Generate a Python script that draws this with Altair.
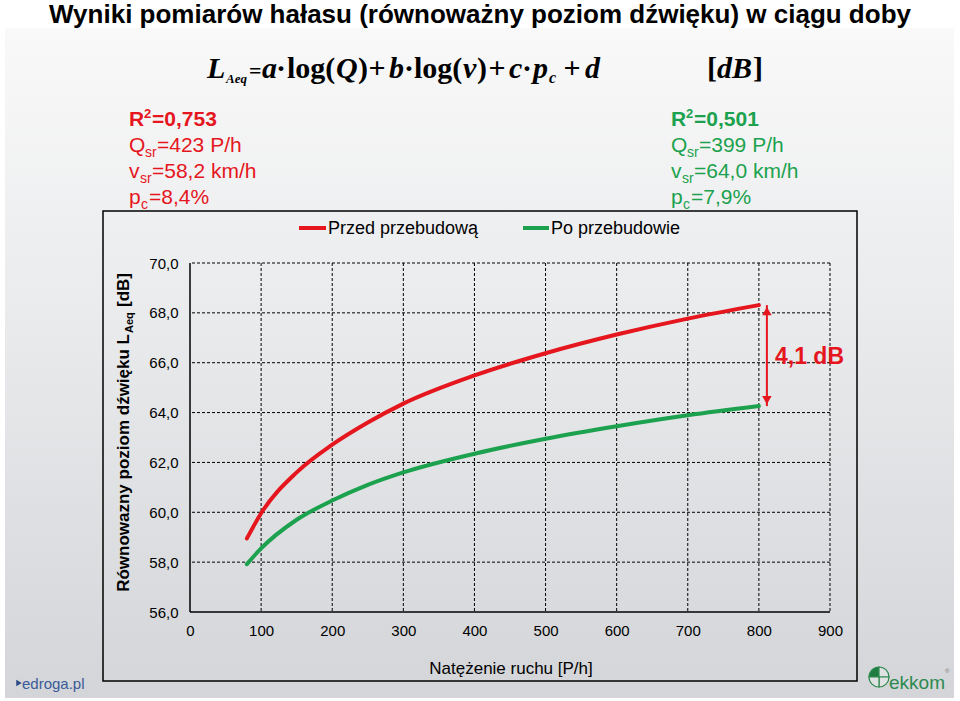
import altair as alt
import pandas as pd

# ---------------- data ----------------
flow = [80, 100, 150, 200, 250, 300, 400, 500, 600, 700, 800]
before = [58.95, 59.96, 61.6, 62.71, 63.6, 64.36, 65.49, 66.38, 67.13, 67.77, 68.31]
after = [57.92, 58.55, 59.7, 60.47, 61.1, 61.6, 62.35, 62.95, 63.45, 63.89, 64.26]
series_names = ["Przed przebudową", "Po przebudowie"]
x_ticks = [0, 100, 200, 300, 400, 500, 600, 700, 800, 900]
y_ticks = [56, 58, 60, 62, 64, 66, 68, 70]
diff_label = "4,1 dB"

RED = "#e5161d"
GREEN = "#1ca24e"
SANS = "Liberation Sans"
SERIF = "Liberation Serif"

L, T, W, H = 190, 263, 640, 349  # plot area in page pixels

xscale = alt.Scale(domain=[0, 900], nice=False, zero=False)
yscale = alt.Scale(domain=[56, 70], nice=False, zero=False)

one = pd.DataFrame({"a": [0]})


def px(x):
    return alt.value(x - L)


def py(y):
    return alt.value(y - T)


def txt(s, x, y, size=17, color="black", bold=False, italic=False,
        align="left", baseline="alphabetic", angle=0, font=SANS):
    kw = dict(fontSize=size, color=color, align=align, baseline=baseline,
              font=font, fontWeight="bold" if bold else "normal",
              fontStyle="italic" if italic else "normal")
    if angle:
        kw["angle"] = angle
    return alt.Chart(one).mark_text(**kw).encode(x=px(x), y=py(y), text=alt.value(s))


layers = []

# background panel (gradient)
grad = alt.LinearGradient(
    gradient="linear",
    stops=[alt.GradientStop(color="#f9f9f9", offset=0),
           alt.GradientStop(color="#e9eaec", offset=0.45),
           alt.GradientStop(color="#d3d5d8", offset=1)],
    x1=0, x2=0, y1=0, y2=1)
layers.append(alt.Chart(one).mark_rect(fill=grad).encode(
    x=px(5), x2=px(954), y=py(28), y2=py(698)))

# chart frame
layers.append(alt.Chart(one).mark_rect(fill=None, stroke="black", strokeWidth=1.5).encode(
    x=px(103), x2=px(857), y=py(211), y2=py(681)))

# dashed gridlines
gx = pd.DataFrame({"v": x_ticks[1:]})
gy = pd.DataFrame({"v": y_ticks[1:]})
layers.append(alt.Chart(gx).mark_rule(color="black", strokeWidth=1, strokeDash=[3, 2]).encode(
    x=alt.X("v:Q", scale=xscale)))
layers.append(alt.Chart(gy).mark_rule(color="black", strokeWidth=1, strokeDash=[3, 2]).encode(
    y=alt.Y("v:Q", scale=yscale)))

# solid axis lines (left & bottom)
layers.append(alt.Chart(one).mark_rule(color="black", strokeWidth=1.5).encode(
    x=alt.datum(x_ticks[0], scale=xscale)))
layers.append(alt.Chart(one).mark_rule(color="black", strokeWidth=1.5).encode(
    y=alt.datum(y_ticks[0], scale=yscale)))

# curves
df = pd.DataFrame({
    "Q": flow * 2,
    "L": before + after,
    "s": [series_names[0]] * len(flow) + [series_names[1]] * len(flow),
})
xaxis = alt.Axis(values=x_ticks, title=None, grid=False, domain=False, ticks=False,
                 labelFontSize=15, labelFont=SANS, labelColor="black",
                 labelPadding=11, zindex=2, labelFlush=False, labelOverlap=False)
yaxis = alt.Axis(values=y_ticks, title=None, grid=False, domain=False, ticks=False,
                 labelFontSize=15, labelFont=SANS, labelColor="black",
                 labelPadding=12, zindex=2, labelFlush=False, labelOverlap=False,
                 labelExpr="replace(format(datum.value, '.1f'), '.', ',')")
layers.append(alt.Chart(df).mark_line(strokeWidth=4, interpolate="monotone", strokeCap="round").encode(
    x=alt.X("Q:Q", scale=xscale, axis=xaxis),
    y=alt.Y("L:Q", scale=yscale, axis=yaxis),
    color=alt.Color("s:N", scale=alt.Scale(domain=series_names, range=[RED, GREEN]), legend=None),
    detail="s:N"))

# difference arrow at the last point
arr = pd.DataFrame({"x": [flow[-1]], "y1": [before[-1]], "y2": [after[-1]]})
layers.append(alt.Chart(arr).mark_rule(color=RED, strokeWidth=2, xOffset=8).encode(
    x=alt.X("x:Q", scale=xscale), y=alt.Y("y1:Q", scale=yscale), y2="y2:Q"))
layers.append(alt.Chart(arr).mark_point(shape="triangle-up", filled=True, size=90, color=RED,
                                        opacity=1, xOffset=8, yOffset=6).encode(
    x=alt.X("x:Q", scale=xscale), y=alt.Y("y1:Q", scale=yscale)))
layers.append(alt.Chart(arr).mark_point(shape="triangle-down", filled=True, size=90, color=RED,
                                        opacity=1, xOffset=8, yOffset=-6).encode(
    x=alt.X("x:Q", scale=xscale), y=alt.Y("y2:Q", scale=yscale)))
layers.append(txt(diff_label, 775, 357, size=23, color=RED, bold=True, baseline="middle"))

# title
layers.append(txt("Wyniki pomiarów hałasu (równoważny poziom dźwięku) w ciągu doby", 480, 23,
                  size=26, bold=True, align="center"))

# formula
fb = 78
fs = 30
for s, x, size, it, dy, al in [
    ("L", 207, fs, True, 0, "left"),
    ("Aeq", 226, 13, True, 5, "left"),
    ("=", 249, 22, False, 0, "left"),
    ("a", 262, fs, True, 0, "left"),
    ("·", 281, fs, False, 0, "center"),
    ("log(", 287, fs, False, 0, "left"),
    ("Q", 336, fs, True, 0, "left"),
    (")", 358, fs, False, 0, "left"),
    ("+", 377, fs, False, 0, "center"),
    ("b", 389, fs, True, 0, "left"),
    ("·", 409, fs, False, 0, "center"),
    ("log(", 414, fs, False, 0, "left"),
    ("v", 463, fs, True, 0, "left"),
    (")", 477, fs, False, 0, "left"),
    ("+", 497, fs, False, 0, "center"),
    ("c", 509, fs, True, 0, "left"),
    ("·", 527, fs, False, 0, "center"),
    ("p", 533, fs, True, 0, "left"),
    ("c", 549, 16, True, 5, "left"),
    ("+", 572, fs, False, 0, "center"),
    ("d", 585, fs, True, 0, "left"),
    ("[", 707, fs, False, 0, "left"),
    ("dB", 717, fs, True, 0, "left"),
    ("]", 753, fs, False, 0, "left"),
]:
    layers.append(txt(s, x, fb + dy, size=size, bold=True, italic=it, align=al, font=SERIF))


# statistics blocks
def stats(x0, color, r2, q, v, p):
    out = []
    b0 = 126
    step = 26
    fs_ = 21
    sub = 14
    out.append(txt("R", x0, b0, size=fs_, color=color, bold=True))
    out.append(txt("2", x0 + 15, b0 - 8, size=13, color=color, bold=True))
    out.append(txt("=" + r2, x0 + 23, b0, size=fs_, color=color, bold=True))
    out.append(txt("Q", x0, b0 + step, size=fs_, color=color))
    out.append(txt("sr", x0 + 16, b0 + step + 5, size=sub, color=color))
    out.append(txt("=" + q, x0 + 28, b0 + step, size=fs_, color=color))
    out.append(txt("v", x0, b0 + 2 * step, size=fs_, color=color))
    out.append(txt("sr", x0 + 11, b0 + 2 * step + 5, size=sub, color=color))
    out.append(txt("=" + v, x0 + 23, b0 + 2 * step, size=fs_, color=color))
    out.append(txt("p", x0, b0 + 3 * step, size=fs_, color=color))
    out.append(txt("c", x0 + 12, b0 + 3 * step + 5, size=sub, color=color))
    out.append(txt("=" + p, x0 + 20, b0 + 3 * step, size=fs_, color=color))
    return out


layers += stats(129, RED, "0,753", "423 P/h", "58,2 km/h", "8,4%")
layers += stats(671, GREEN, "0,501", "399 P/h", "64,0 km/h", "7,9%")

# legend
layers.append(alt.Chart(one).mark_rule(color=RED, strokeWidth=4).encode(
    x=px(299), x2=px(326), y=py(228)))
layers.append(txt(series_names[0], 328, 234, size=18))
layers.append(alt.Chart(one).mark_rule(color=GREEN, strokeWidth=4).encode(
    x=px(523), x2=px(549), y=py(228)))
layers.append(txt(series_names[1], 551, 234, size=18))

# axis titles
layers.append(txt("Równowazny poziom dźwięku L", 129, 334, size=17, bold=True, angle=270, align="right"))
layers.append(txt("Aeq", 133, 333, size=11, bold=True, angle=270, align="left"))
layers.append(txt("[dB]", 129, 307, size=17, bold=True, angle=270, align="left"))
layers.append(txt("Natężenie ruchu [P/h]", 511, 674, size=17, align="center"))

# logos
layers.append(alt.Chart(one).mark_point(shape="triangle-right", filled=True, size=40,
                                        color="#2c4a86", opacity=1).encode(x=px(19), y=py(683)))
layers.append(txt("edroga.pl", 22, 689, size=15, color="#3a5a98"))
cx, cy, r = 879, 677, 10
for t0, t1, fill in [(4.712, 6.283, "#1f7d42"), (0, 1.571, "#dfe1e3"),
                     (1.571, 3.142, "#dfe1e3"), (3.142, 4.712, "#dfe1e3")]:
    layers.append(alt.Chart(one).mark_arc(radius=r, theta=t0, theta2=t1, fill=fill,
                                          stroke="#2c8a4e", strokeWidth=1.2).encode(
        x=px(cx), y=py(cy)))
layers.append(txt("ekkom", 889, 689, size=19, color="#2d8a50"))
layers.append(txt("®", 945, 673, size=6, color="#777777"))

chart = alt.layer(*layers).properties(
    width=W, height=H,
    padding={"left": L, "top": T, "right": 960 - L - W, "bottom": 701 - T - H},
    autosize=alt.AutoSizeParams(type="none"),
    background="white",
).configure_view(stroke=None)

chart.save("out.html", embed_options={"renderer": "svg", "actions": False})
